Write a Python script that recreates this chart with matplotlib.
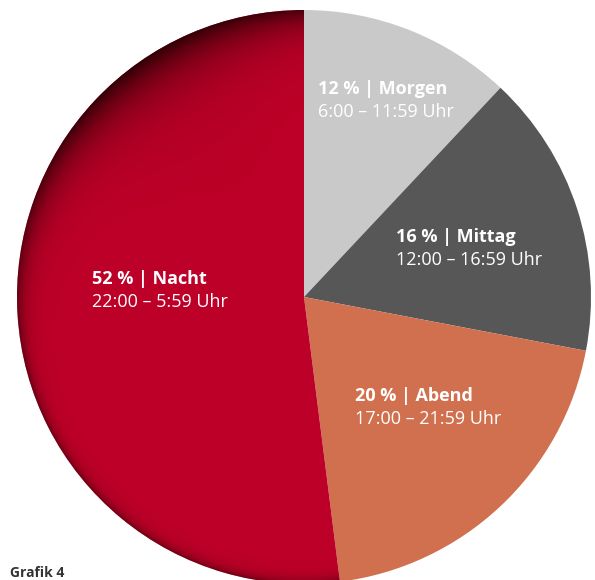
import numpy as np
import matplotlib
matplotlib.use("Agg")
import matplotlib.pyplot as plt

# data
categories = ["Morgen", "Mittag", "Abend", "Nacht"]
shares = [12, 16, 20, 52]
time_ranges = ["6:00 – 11:59 Uhr", "12:00 – 16:59 Uhr", "17:00 – 21:59 Uhr", "22:00 – 5:59 Uhr"]
colors = ["#C9C9C9", "#575757", "#D0704F", "#BC0027"]
title = "Grafik 4"

W, H = 595, 580
fig = plt.figure(figsize=(W / 100, H / 100), dpi=100)
ax = fig.add_axes([0, 0, 1, 1])
cx, cy, R = 304, H - 297, 287

wedges, _ = ax.pie(shares, colors=colors, startangle=90, counterclock=False,
                   center=(cx, cy), radius=R, frame=True,
                   wedgeprops=dict(linewidth=0))

# rim shading on the Nacht wedge
xs = np.arange(cx - R, cx + 60)
ys = np.arange(cy - R - 10, cy + R + 1)
X, Y = np.meshgrid(xs + 0.5, ys + 0.5)
dx, dy = X - cx, Y - cy
r = np.hypot(dx, dy)
phi = np.degrees(np.arctan2(dy, dx)) % 360
g = np.exp(-((phi - 122) / 42) ** 2)
w = 5 + 24 * g
strength = 0.5 + 0.38 * g
d = np.clip(R - r, 0, None)
alpha = strength * np.exp(-d / w)
img = np.zeros(X.shape + (4,))
img[..., 0] = 0.1
img[..., 3] = alpha
im = ax.imshow(img, extent=(xs[0], xs[-1] + 1, ys[0], ys[-1] + 1), origin="lower",
               interpolation="bilinear", zorder=2)
im.set_clip_path(wedges[3])

ax.set_xlim(0, W)
ax.set_ylim(0, H)
ax.set_aspect("equal")
ax.axis("off")

font = "Open Sans"
label_pos = [(318, 89), (396, 237), (355, 396), (92, 279)]
for (x, y), cat, pct, tr in zip(label_pos, categories, shares, time_ranges):
    ax.text(x, H - y, f"{pct} % | {cat}", color="white", fontsize=13, fontweight="bold",
            family=font, va="center", ha="left", zorder=5)
    ax.text(x, H - y - 23, tr, color="white", fontsize=13, family=font,
            va="center", ha="left", zorder=5)

ax.text(10, H - 566, title, color="#333333", fontsize=10, fontweight="bold",
        family=font, va="top", ha="left")

fig.savefig("out.png", dpi=100)
